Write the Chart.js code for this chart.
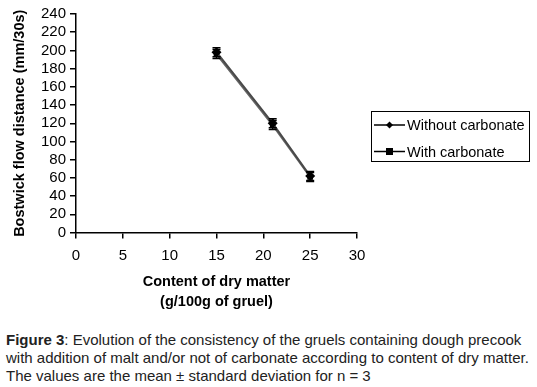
<!DOCTYPE html>
<html><head><meta charset="utf-8">
<script src="https://cdn.jsdelivr.net/npm/chart.js@4"></script>
<style>
html,body{margin:0;padding:0;background:#fff;}
#wrap{position:absolute;left:0;top:0;width:537px;height:320px;}
#cap{position:absolute;left:6px;top:331px;font-family:"Liberation Sans",Arial,sans-serif;font-size:15px;line-height:18px;color:#222;white-space:nowrap;}
</style></head><body>
<div id="wrap"><canvas id="c" width="537" height="320"></canvas></div>
<div id="cap"><b>Figure 3</b>: Evolution of the consistency of the gruels containing dough precook<br>with addition of malt and/or not of carbonate according to content of dry matter.<br>The values are the mean ± standard deviation for n = 3</div>
<script>
const dryMatter = [15, 21, 25];
const withoutCarbonate = [198, 120, 62];
const withoutCarbonateSD = [5, 5, 5];
const withCarbonate = [196, 118, 61];
const withCarbonateSD = [5, 5, 5];
const seriesLabels = ["Without carbonate", "With carbonate"];
const xTicks = [0, 5, 10, 15, 20, 25, 30];
const yTicks = [0, 20, 40, 60, 80, 100, 120, 140, 160, 180, 200, 220, 240];

const FONT = '"Liberation Sans", Arial, sans-serif';
const pts = (xs, ys) => xs.map((x, i) => ({x: x, y: ys[i]}));

const errorBars = {
  id: 'errorBars',
  afterDatasetsDraw(chart) {
    const ctx = chart.ctx, xs = chart.scales.x, ys = chart.scales.y;
    chart.data.datasets.forEach(ds => {
      ctx.save();
      ctx.strokeStyle = '#000';
      ctx.lineWidth = 1.5;
      ds.data.forEach((p, i) => {
        const e = ds.sd[i];
        const px = xs.getPixelForValue(p.x);
        const y1 = ys.getPixelForValue(p.y + e), y2 = ys.getPixelForValue(p.y - e);
        ctx.beginPath();
        ctx.moveTo(px, y1); ctx.lineTo(px, y2);
        ctx.moveTo(px - 4, y1); ctx.lineTo(px + 4, y1);
        ctx.moveTo(px - 4, y2); ctx.lineTo(px + 4, y2);
        ctx.stroke();
      });
      ctx.restore();
    });
  }
};

const boxLegend = {
  id: 'boxLegend',
  afterDraw(chart) {
    const ctx = chart.ctx;
    const bx = 371, by = 111, bw = 158, bh = 50;
    ctx.save();
    ctx.strokeStyle = '#000';
    ctx.lineWidth = 1;
    ctx.strokeRect(bx + 0.5, by + 0.5, bw, bh);
    ctx.font = '14.5px ' + FONT;
    ctx.textBaseline = 'middle';
    ctx.fillStyle = '#000';
    chart.data.datasets.forEach((ds, i) => {
      const y = by + 14 + i * 26.5;
      ctx.strokeStyle = '#000';
      ctx.lineWidth = 1.5;
      ctx.beginPath(); ctx.moveTo(bx + 3, y); ctx.lineTo(bx + 34, y); ctx.stroke();
      const cx = bx + 18.5;
      ctx.fillStyle = '#000';
      if (ds.pointStyle === 'rectRot') {
        ctx.beginPath(); ctx.moveTo(cx, y - 3.5); ctx.lineTo(cx + 3.5, y); ctx.lineTo(cx, y + 3.5); ctx.lineTo(cx - 3.5, y); ctx.closePath(); ctx.fill();
      } else {
        ctx.fillRect(cx - 3.5, y - 3.5, 7, 7);
      }
      ctx.fillText(ds.label, bx + 36, y + 1);
    });
    ctx.restore();
  }
};

new Chart(document.getElementById('c'), {
  type: 'line',
  data: {
    datasets: [
      {label: seriesLabels[0], data: pts(dryMatter, withoutCarbonate), sd: withoutCarbonateSD,
       borderColor: '#4a4a4a', borderWidth: 2, pointStyle: 'rectRot', pointRadius: 5,
       pointBackgroundColor: '#000', pointBorderColor: '#000', pointBorderWidth: 0},
      {label: seriesLabels[1], data: pts(dryMatter, withCarbonate), sd: withCarbonateSD,
       borderColor: '#666', borderWidth: 2, pointStyle: 'rect', pointRadius: 4,
       pointBackgroundColor: '#000', pointBorderColor: '#000', pointBorderWidth: 0}
    ]
  },
  options: {
    responsive: false,
    animation: false,
    layout: {padding: {top: 14, right: 180, left: 0, bottom: 0}},
    plugins: {legend: {display: false}, tooltip: {enabled: false}},
    scales: {
      x: {
        type: 'linear', min: 0, max: 30,
        afterBuildTicks: s => { s.ticks = xTicks.map(v => ({value: v})); },
        afterFit: s => { s.height = 87.5; },
        grid: {drawOnChartArea: false, drawTicks: true, tickLength: 6, color: '#000', lineWidth: 1.5},
        border: {display: true, color: '#000', width: 1.5},
        ticks: {color: '#000', font: {family: FONT, size: 15}, padding: 8, maxRotation: 0, autoSkip: false},
        title: {display: true, text: ['Content of dry matter', '(g/100g of gruel)'], color: '#000',
                font: {family: FONT, size: 14.5, weight: 'bold', lineHeight: 1.38}, padding: {bottom: 8}}
      },
      y: {
        type: 'linear', min: 0, max: 240,
        afterBuildTicks: s => { s.ticks = yTicks.map(v => ({value: v})); },
        afterFit: s => { s.width = 76; },
        grid: {drawOnChartArea: false, drawTicks: true, tickLength: 6, color: '#000', lineWidth: 1.5},
        border: {display: true, color: '#000', width: 1.5},
        ticks: {color: '#000', font: {family: FONT, size: 15}, padding: 4, autoSkip: false},
        title: {display: true, text: 'Bostwick flow distance (mm/30s)', color: '#000',
                font: {family: FONT, size: 14.5, weight: 'bold'}, padding: {top: 11}}
      }
    }
  },
  plugins: [errorBars, boxLegend]
});
</script>
</body></html>
